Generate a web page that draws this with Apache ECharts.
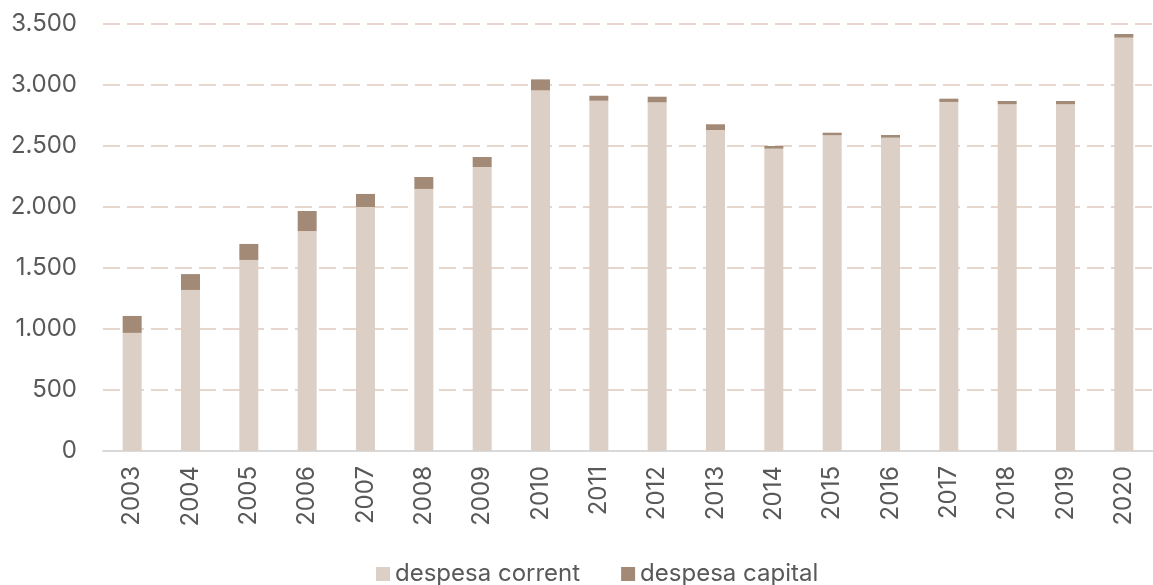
<!DOCTYPE html>
<html>
<head>
<meta charset="utf-8">
<script src="https://cdn.jsdelivr.net/npm/echarts@6/dist/echarts.min.js"></script>
<style>
  html, body { margin: 0; padding: 0; background: #fff; }
  #chart { width: 1153px; height: 585px; }
</style>
</head>
<body>
<div id="chart"></div>
<script>
const years = ["2003", "2004", "2005", "2006", "2007", "2008", "2009", "2010", "2011",
  "2012", "2013", "2014", "2015", "2016", "2017", "2018", "2019", "2020"];
const despesaCorrent = [968, 1320, 1566, 1803, 2000, 2148, 2328, 2956, 2871,
  2858, 2631, 2478, 2588, 2568, 2861, 2842, 2842, 3388];
const despesaCapital = [139, 130, 131, 164, 107, 98, 82, 90, 41,
  46, 47, 22, 21, 22, 27, 27, 27, 30];

const font = "Inter, 'Noto Sans', sans-serif";

const chart = echarts.init(document.getElementById("chart"));
chart.setOption({
  animation: false,
  grid: { left: 103, top: 24, width: 1066, height: 427 },
  legend: {
    top: 557,
    left: 371,
    itemWidth: 14,
    itemHeight: 14,
    itemGap: 41,
    icon: "rect",
    textStyle: { fontFamily: font, fontSize: 24, color: "#595959" },
    data: ["despesa corrent", "despesa capital"]
  },
  xAxis: {
    type: "category",
    data: years,
    axisLine: { lineStyle: { color: "#d9d9d9", width: 2 } },
    axisTick: { show: false },
    axisLabel: { rotate: 90, fontFamily: font, fontSize: 24, color: "#595959", margin: 15 }
  },
  yAxis: {
    type: "value",
    min: 0,
    max: 3500,
    interval: 500,
    axisLine: { show: false },
    axisTick: { show: false },
    axisLabel: {
      fontFamily: font, fontSize: 24, color: "#595959", margin: 26,
      formatter: (v) => v.toString().replace(/\B(?=(\d{3})+(?!\d))/g, ".")
    },
    splitLine: { lineStyle: { color: "#e6d6cd", width: 2, type: [17, 7] } }
  },
  series: [
    {
      name: "despesa corrent",
      type: "bar",
      stack: "total",
      barWidth: 19,
      itemStyle: { color: "#dccfc6" },
      data: despesaCorrent
    },
    {
      name: "despesa capital",
      type: "bar",
      stack: "total",
      barWidth: 19,
      itemStyle: { color: "#a38a76" },
      data: despesaCapital
    }
  ]
});
</script>
</body>
</html>
